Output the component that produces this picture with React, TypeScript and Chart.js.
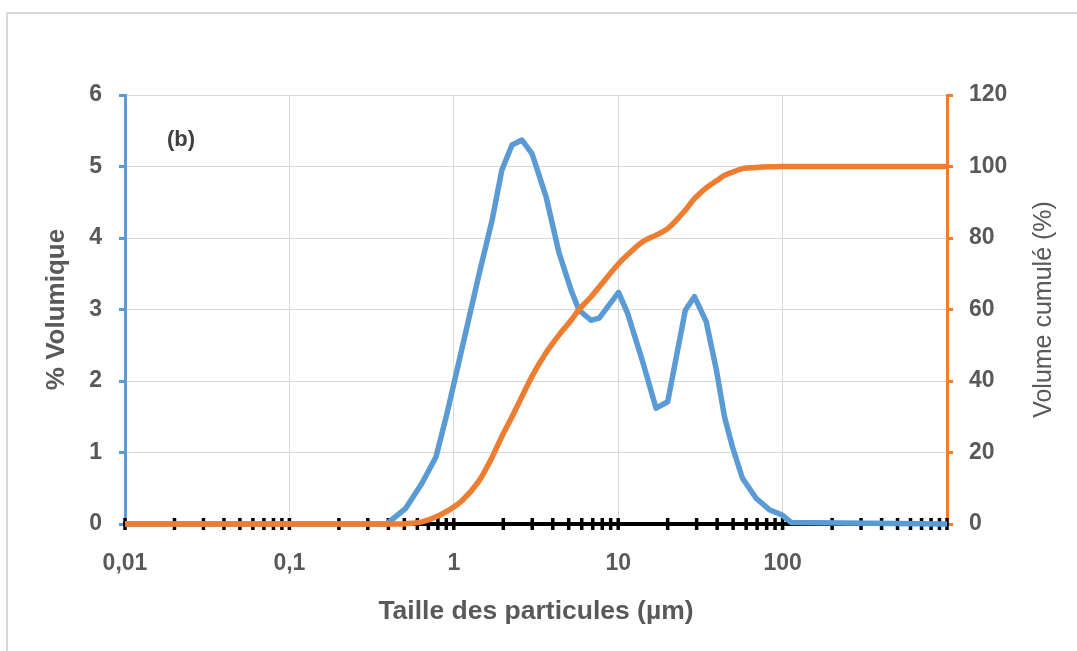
import React, { useEffect, useRef } from 'react';
import { Chart, registerables } from 'chart.js';

Chart.register(...registerables);

// ---- Data ----
const SIZES_UM = [
  0.01, 0.39, 0.51, 0.64, 0.78, 0.91, 1.12, 1.42, 1.71, 1.96, 2.26, 2.6, 2.99,
  3.64, 4.37, 5.17, 5.78, 6.82, 7.66, 10.05, 11.4, 14.0, 17.0, 20.0, 25.6, 29.1,
  34.3, 39.6, 44.3, 49.5, 57, 69, 83, 98.6, 113, 1000,
];
const VOLUME_PCT = [
  0, 0, 0.22, 0.57, 0.94, 1.55, 2.45, 3.48, 4.25, 4.95, 5.3, 5.37, 5.18,
  4.58, 3.79, 3.27, 2.99, 2.85, 2.88, 3.24, 2.95, 2.29, 1.62, 1.71, 2.99, 3.18,
  2.83, 2.15, 1.5, 1.08, 0.64, 0.36, 0.2, 0.13, 0.02, 0,
];
const CUMULATIVE_PCT = [
  0, 0, 0.1, 0.6, 2.0, 3.6, 6.5, 12, 18.7, 24.5, 30, 35.7, 41.3,
  47.9, 52.9, 57, 60, 63.5, 66.3, 72.8, 75.3, 78.9, 80.8, 82.6, 87.8, 91,
  94, 96, 97.5, 98.4, 99.4, 99.7, 99.9, 100, 100, 100,
];

const X_MAJOR_TICKS = [0.01, 0.1, 1, 10, 100, 1000];
const X_MAJOR_LABELS = ['0,01', '0,1', '1', '10', '100', ''];
const DECADE_EXPONENTS = [-2, -1, 0, 1, 2];
const MANTISSAS = [1, 2, 3, 4, 5, 6, 7, 8, 9];

const X_TITLE = 'Taille des particules (µm)';
const Y_LEFT_TITLE = '% Volumique';
const Y_RIGHT_TITLE = 'Volume cumulé (%)';
const PANEL_LABEL = '(b)';

const BLUE = '#5B9BD5';
const ORANGE = '#ED7D31';
const GRID = '#D9D9D9';
const TEXT = '#595959';
const FONT = "'Liberation Sans', Arial, sans-serif";

const X_MINOR_TICKS: number[] = [];
DECADE_EXPONENTS.forEach((e) => {
  MANTISSAS.forEach((m) => {
    X_MINOR_TICKS.push(Number((m * Math.pow(10, e)).toPrecision(3)));
  });
});
X_MINOR_TICKS.push(1000);

const minorTicksPlugin = {
  id: 'minorTicks',
  beforeDatasetsDraw(chart: any) {
    const xs = chart.scales.x;
    const ys = chart.scales.yLeft;
    const y0 = ys.getPixelForValue(0);
    const ctx = chart.ctx;
    ctx.save();
    ctx.strokeStyle = '#000000';
    ctx.lineWidth = 3.5;
    X_MINOR_TICKS.forEach((v) => {
      const px = xs.getPixelForValue(v);
      ctx.beginPath();
      ctx.moveTo(px, y0 - 6);
      ctx.lineTo(px, y0 + 6);
      ctx.stroke();
    });
    ctx.restore();
  },
};

// Right axis title reads bottom-to-top like the left one
const rightTitlePlugin = {
  id: 'rightTitle',
  afterDraw(chart: any) {
    const ys = chart.scales.yRight;
    const ctx = chart.ctx;
    const cx = ys.right - 33;
    const cy = (ys.top + ys.bottom) / 2;
    ctx.save();
    ctx.translate(cx, cy);
    ctx.rotate(-Math.PI / 2);
    ctx.fillStyle = TEXT;
    ctx.font = `normal 25px ${FONT}`;
    ctx.textAlign = 'center';
    ctx.textBaseline = 'middle';
    ctx.fillText(Y_RIGHT_TITLE, 0, 0);
    ctx.restore();
  },
};

export default function App() {
  const canvasRef = useRef<HTMLCanvasElement | null>(null);

  useEffect(() => {
    if (!canvasRef.current) return;
    const points = (vals: number[]) => SIZES_UM.map((s, i) => ({ x: s, y: vals[i] }));
    const chart = new Chart(canvasRef.current, {
      type: 'line',
      data: {
        datasets: [
          {
            label: Y_LEFT_TITLE,
            data: points(VOLUME_PCT),
            yAxisID: 'yLeft',
            borderColor: BLUE,
            borderWidth: 5.5,
            pointRadius: 0,
            tension: 0,
            borderJoinStyle: 'round',
            clip: false,
            order: 2,
          },
          {
            label: Y_RIGHT_TITLE,
            data: points(CUMULATIVE_PCT),
            yAxisID: 'yRight',
            borderColor: ORANGE,
            borderWidth: 5.5,
            pointRadius: 0,
            cubicInterpolationMode: 'monotone',
            borderJoinStyle: 'round',
            clip: false,
            order: 1,
          },
        ],
      } as any,
      options: {
        animation: false,
        responsive: false,
        layout: { padding: { top: 95, left: 0, right: 0, bottom: 0 } },
        plugins: { legend: { display: false }, tooltip: { enabled: false } },
        scales: {
          x: {
            type: 'logarithmic',
            position: 'bottom',
            min: 0.01,
            max: 1000,
            afterBuildTicks: (scale: any) => {
              scale.ticks = X_MAJOR_TICKS.map((v) => ({ value: v, major: true }));
            },
            afterFit: (scale: any) => {
              scale.height = 127;
            },
            ticks: {
              autoSkip: false,
              maxRotation: 0,
              padding: 26,
              color: TEXT,
              font: { family: FONT, size: 23, weight: 'bold' },
              callback: (value: any) => {
                const i = X_MAJOR_TICKS.indexOf(Number(value));
                return i >= 0 ? X_MAJOR_LABELS[i] : '';
              },
            },
            grid: { color: GRID, lineWidth: 1, drawTicks: false },
            border: { color: '#000000', width: 4 },
            title: {
              display: true,
              text: X_TITLE,
              color: TEXT,
              font: { family: FONT, size: 26.5, weight: 'bold' },
              padding: { top: 0, bottom: 23 },
            },
          },
          yLeft: {
            type: 'linear',
            position: 'left',
            min: 0,
            max: 6,
            afterFit: (scale: any) => {
              scale.width = 125;
            },
            ticks: {
              stepSize: 1,
              padding: 17,
              color: TEXT,
              font: { family: FONT, size: 23, weight: 'bold' },
            },
            grid: { color: GRID, lineWidth: 1, tickColor: BLUE, tickLength: 6, tickWidth: 3 },
            border: { color: BLUE, width: 3 },
            title: {
              display: true,
              text: Y_LEFT_TITLE,
              color: TEXT,
              font: { family: FONT, size: 26, weight: 'bold' },
              padding: { top: 41, bottom: 0 },
            },
          },
          yRight: {
            type: 'linear',
            position: 'right',
            min: 0,
            max: 120,
            afterFit: (scale: any) => {
              scale.width = 130;
            },
            ticks: {
              stepSize: 20,
              padding: 16,
              color: TEXT,
              font: { family: FONT, size: 23, weight: 'bold' },
            },
            grid: { drawOnChartArea: false, tickColor: ORANGE, tickLength: 6, tickWidth: 3 },
            border: { color: ORANGE, width: 3 },
            title: { display: false },
          },
        },
      } as any,
      plugins: [minorTicksPlugin, rightTitlePlugin],
    });
    return () => chart.destroy();
  }, []);

  return (
    <div
      style={{
        position: 'fixed',
        left: 0,
        top: 0,
        width: 1077,
        height: 651,
        background: '#ffffff',
        overflow: 'hidden',
      }}
    >
      <div
        style={{
          position: 'absolute',
          left: 6,
          top: 12,
          right: 0,
          bottom: 0,
          borderTop: `2px solid ${GRID}`,
          borderLeft: `2px solid ${GRID}`,
        }}
      />
      <canvas
        ref={canvasRef}
        width={1077}
        height={651}
        style={{ position: 'absolute', left: 0, top: 0, width: 1077, height: 651 }}
      />
      <span
        style={{
          position: 'absolute',
          left: 167,
          top: 128,
          fontFamily: FONT,
          fontWeight: 'bold',
          fontSize: 22,
          lineHeight: '22px',
          color: '#404040',
        }}
      >
        {PANEL_LABEL}
      </span>
    </div>
  );
}
